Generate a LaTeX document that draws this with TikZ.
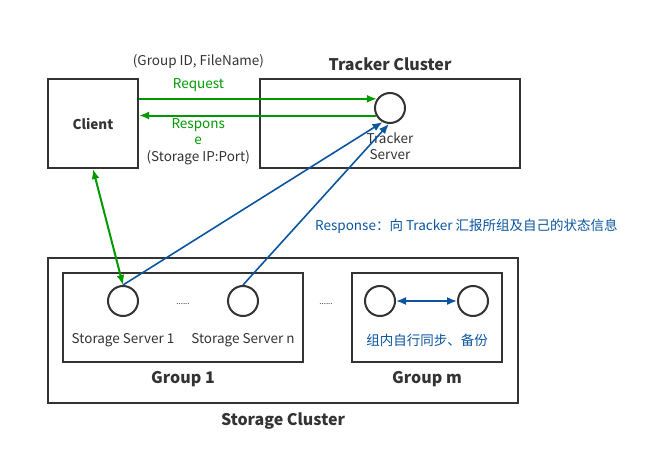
\documentclass[tikz,border=0pt]{standalone}
\usepackage{fontspec}
\setmainfont{Noto Sans CJK SC}
\usetikzlibrary{positioning, arrows.meta}
\definecolor{txtgray}{HTML}{333333}
\definecolor{arrgreen}{HTML}{009A00}
\definecolor{arrblue}{HTML}{0B55A0}
\tikzset{
    box/.style={draw=txtgray, line width=2pt, inner sep=0pt},
    srv/.style={circle, draw=txtgray, line width=2pt, minimum size=30pt, inner sep=0pt},
    lbl/.style={text=txtgray, font=\fontsize{13.5}{16.5}\selectfont, inner sep=1pt},
    ttl/.style={text=txtgray, font=\fontsize{16}{18}\selectfont\bfseries, inner sep=1pt},
    tip/.style={-{Latex[length=10pt,width=8pt]}},
    tips/.style={{Latex[length=10pt,width=8pt]}-{Latex[length=10pt,width=8pt]}},
    garrow/.style={arrgreen, line width=2pt},
    barrow/.style={arrblue, line width=1.6pt}
}

\begin{document}
\begin{tikzpicture}[x=1pt, y=-1pt]
    \useasboundingbox (0,0) rectangle (647,465);
    % client and tracker
    \node[box, minimum width=90pt, minimum height=89pt, text=txtgray,
        font=\fontsize{13.5}{14}\selectfont\bfseries] (client) at (93,123.5) {Client};
    \node[box, minimum width=260pt, minimum height=89pt] (tracker) at (390,123.5) {};
    \node[ttl, above=6.5pt of tracker] (trackerttl) {Tracker Cluster};
    \node[srv] (ts) at (390,108) {};
    \node[lbl, align=center] (tslbl) at (390,146) {Tracker\\Server};

    % storage
    \node[box, minimum width=470pt, minimum height=145pt] (storage) at (283,330.5) {};
    \node[ttl, below=8pt of storage] (storagettl) {Storage Cluster};
    \node[box, minimum width=240pt, minimum height=89pt] (g1) at (183,317.5) {};
    \node[box, minimum width=150pt, minimum height=89pt] (gm) at (427,317.5) {};
    \node[ttl, below=7pt of g1] (g1ttl) {Group 1};
    \node[ttl, below=7pt of gm] (gmttl) {Group m};
    \node[srv] (s1) at (123,301) {};
    \node[srv] (sn) at (243,301) {};
    \node[srv] (m1) at (380,301) {};
    \node[srv] (m2) at (473,301) {};
    \node[lbl] (s1lbl) at (123,340) {Storage Server 1};
    \node[lbl] (snlbl) at (243,340) {Storage Server n};
    \node[lbl, text=arrblue] (synclbl) at (427,340) {组内自行同步、备份};
    \node[text=txtgray, font=\fontsize{8}{8}\selectfont] (dots1) at (183,304) {......};
    \node[text=txtgray, font=\fontsize{8}{8}\selectfont] (dots2) at (326,304) {......};

    % client <-> tracker
    \draw[garrow, tip] (client.east |- ts.145) -- node[pos=0.25, above=5pt, lbl, text=arrgreen] (req) {Request} (ts.145);
    \node[lbl, above=7pt of req] (reqinfo) {(Group ID, FileName)};
    \draw[garrow, tip] (ts.208) -- node[pos=0.75, below=1pt, lbl, align=center, text=arrgreen]
        (resp) {Respons\\e\\\textcolor{txtgray}{(Storage IP:Port)}} (client.east |- ts.208);

    % client <-> storage
    \draw[garrow, tips] (client.south) -- (s1.north);

    % storage -> tracker
    \draw[barrow, tip] (s1.north) -- (ts.242);
    \draw[barrow, tip] (sn.north) -- (ts.266);
    \node[lbl, text=arrblue, anchor=west] (stateinfo) at (314,226) {Response：向 Tracker 汇报所组及自己的状态信息};
    \draw[barrow, tips] (m1) -- (m2);
\end{tikzpicture}
\end{document}
